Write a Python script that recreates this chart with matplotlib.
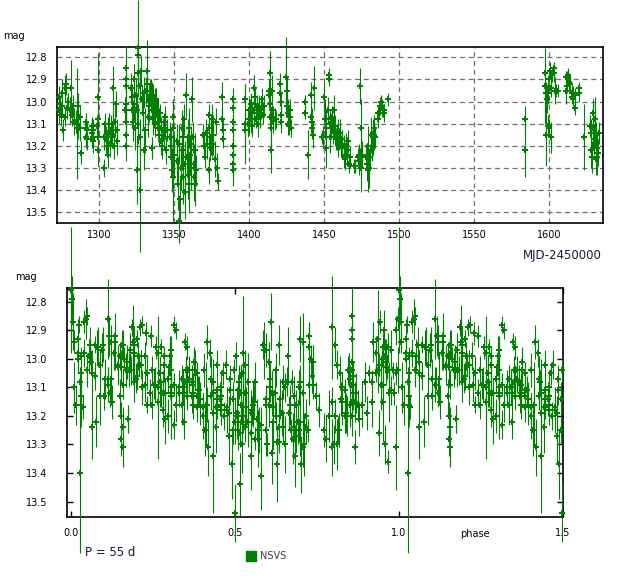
"""NSVS light curve of a semi-regular variable: time series and phase plot (P = 55 d)."""
import numpy as np
import matplotlib
matplotlib.use('Agg')
import matplotlib.pyplot as plt
from matplotlib.lines import Line2D

GREEN = '#008000'
PERIOD = 55.0      # days
T0 = 1325.45       # MJD-2450000 of phase 0

mjd = [
    1272.7, 1273.1, 1273.8, 1274.4, 1274.9, 1275.3, 1276.0, 1276.7, 1277.1, 1277.8, 1278.4, 1279.3, 1280.2, 1280.9, 1281.6, 1282.2, 1282.9,
    1284.4, 1285.1, 1285.6, 1286.0, 1286.7, 1287.3, 1287.8,
    1290.9, 1290.9, 1290.9, 1291.6, 1291.6,
    1294.9, 1294.9, 1294.9, 1295.6, 1295.6, 1295.6,
    1298.4, 1298.7, 1298.9, 1299.1, 1299.3,
    1303.1, 1303.3, 1303.8, 1304.4, 1304.9, 1305.6, 1306.0, 1306.4, 1307.1, 1307.8, 1308.2, 1308.7, 1309.3, 1309.8, 1310.4, 1311.1, 1311.6, 1312.0,
    1317.1, 1317.6, 1317.6, 1317.6, 1317.6, 1317.6, 1317.6, 1317.6, 1317.6,
    1321.1, 1321.6, 1322.0, 1322.4, 1322.9, 1323.3, 1323.8, 1324.2, 1324.9, 1325.3, 1325.5, 1325.6, 1325.8, 1326.0, 1326.7, 1327.0, 1327.1, 1328.0,
    1328.4, 1328.9, 1329.6, 1330.0, 1330.4, 1330.9, 1331.6, 1331.8, 1332.2, 1332.7, 1333.3, 1334.0, 1334.7, 1335.1, 1335.3, 1336.0, 1336.7,
    1334.2, 1334.9, 1335.1, 1335.6, 1336.0, 1336.4, 1336.9, 1337.3, 1337.8, 1338.2, 1338.7, 1339.1, 1339.6, 1340.0, 1340.4, 1340.9, 1341.3,
    1341.8, 1342.2, 1342.7, 1343.1, 1343.6, 1344.0, 1344.4, 1344.9,
    1347.1, 1347.6, 1348.0, 1348.4, 1348.9, 1349.3, 1349.3, 1349.8,
    1351.6, 1352.0, 1352.4, 1352.9, 1353.3, 1353.8, 1354.2, 1354.7, 1355.1, 1355.6, 1356.0, 1356.4, 1356.9, 1357.3, 1357.8,
    1358.2, 1358.7, 1359.1, 1359.6, 1360.0, 1360.4, 1360.9, 1361.3, 1361.8, 1362.2, 1362.7, 1363.1, 1363.6, 1364.0, 1364.4,
    1369.3, 1369.8, 1370.2, 1370.7, 1371.6, 1372.7, 1373.1, 1373.3, 1373.8, 1374.2, 1374.7, 1375.1, 1376.0, 1377.1, 1377.8, 1378.2, 1378.7,
    1381.6, 1382.0, 1382.2, 1382.4,
    1388.7, 1388.9, 1389.1, 1388.7, 1388.9, 1389.1, 1388.9, 1389.1,
    1397.1, 1397.3, 1397.3, 1399.8, 1399.8,
    1399.3, 1400.2, 1400.7, 1401.1, 1401.6, 1402.0, 1402.7, 1403.3, 1403.8, 1404.2, 1404.9, 1405.6, 1406.0, 1406.4, 1407.1, 1407.8, 1408.2, 1408.9, 1409.6,
    1412.7, 1413.1, 1413.6, 1413.8, 1414.0, 1414.2, 1414.4, 1414.9, 1415.3, 1416.0, 1416.7, 1417.6,
    1420.4, 1420.4, 1420.7, 1420.9, 1421.1,
    1424.2, 1424.7, 1425.1, 1425.6, 1426.0, 1426.4, 1426.9, 1427.3, 1427.8,
    1436.7, 1437.1, 1438.9, 1440.7, 1441.1, 1441.6, 1442.0, 1442.4, 1442.9,
    1448.2, 1449.1, 1450.0, 1450.4, 1450.9, 1451.3, 1452.2, 1452.7, 1453.1, 1453.6, 1454.0, 1454.4, 1454.9, 1455.3, 1455.8,
    1456.2, 1456.7, 1457.1, 1457.6, 1458.2, 1458.9, 1459.3, 1459.8, 1460.4, 1461.1, 1461.6, 1462.0, 1462.7, 1463.3,
    1463.8, 1464.3, 1464.7, 1465.1, 1465.8, 1466.4, 1466.9,
    1470.0, 1470.4,
    1472.4, 1472.8, 1473.2, 1473.7, 1473.9, 1474.3, 1474.6, 1474.8, 1475.2,
    1477.9, 1478.3, 1478.7, 1479.2, 1479.6, 1480.0, 1480.5, 1480.9, 1481.4, 1481.8, 1482.2, 1482.7, 1483.1, 1483.6,
    1485.5, 1486.0, 1486.6, 1487.1, 1487.7, 1488.4, 1488.8, 1489.5, 1489.9,
    1492.1,
    1583.8, 1583.8,
    1596.9, 1597.3, 1597.8, 1597.8, 1598.2, 1598.7, 1599.1, 1599.6, 1600.0, 1600.4, 1600.9, 1601.3, 1601.8, 1602.7, 1603.1, 1603.6, 1604.4, 1605.8,
    1610.7, 1611.1, 1611.6, 1612.0, 1612.4, 1613.1, 1613.8, 1614.7, 1615.1, 1615.6, 1616.0, 1616.9, 1617.3, 1619.6, 1620.0,
    1623.1, 1627.1, 1627.6, 1628.0, 1628.4, 1628.9, 1629.3, 1629.8, 1630.2, 1630.7, 1630.7, 1631.1, 1631.6, 1632.0, 1632.4, 1633.1,
]
mag = [
    12.98, 13.04, 13.01, 13.06, 12.96, 13.02, 13.13, 13.07, 12.94, 12.92, 13.03, 13.00, 13.04, 12.94, 13.06, 13.02, 13.09,
    13.09, 13.10, 13.12, 13.02, 13.07, 13.12, 13.23,
    13.09, 13.12, 13.16, 13.13, 13.17,
    13.11, 13.14, 13.17, 13.13, 13.16, 13.18,
    13.11, 13.08, 13.16, 13.22, 12.98,
    13.16, 13.30, 13.10, 13.17, 13.20, 13.14, 13.24, 13.10, 13.19, 13.13, 13.16, 13.10, 12.94, 13.20, 13.09, 13.01, 13.13, 13.18,
    13.04, 12.85, 12.90, 12.93, 13.01, 13.04, 13.09, 13.15, 13.20,
    12.94, 12.98, 13.04, 13.09, 12.90, 13.01, 13.12, 12.97, 13.31, 13.04, 12.76, 12.79, 12.87, 13.10, 12.93, 13.40, 13.16, 12.86,
    12.99, 13.05, 13.22, 12.96, 13.13, 12.95, 12.86, 12.92, 13.07, 12.98, 13.02, 12.95, 13.04, 13.21, 12.97, 13.08, 12.99,
    12.95, 13.01, 13.21, 13.04, 12.98, 13.07, 13.02, 13.10, 12.99, 13.05, 13.12, 13.04, 13.09, 13.15, 13.05, 13.18, 13.12,
    13.20, 13.13, 13.09, 13.16, 13.12, 13.07, 13.22, 13.13,
    13.16, 13.20, 13.25, 13.31, 13.07, 13.12, 13.34, 13.24,
    13.18, 13.27, 13.37, 13.54, 13.19, 13.44, 13.30, 13.12, 13.22, 13.34, 13.16, 13.08, 13.28, 13.41, 12.97,
    13.25, 13.16, 13.33, 13.12, 13.37, 13.24, 13.19, 13.30, 12.99, 13.16, 13.28, 13.34, 13.22, 13.37, 13.31,
    13.15, 13.20, 13.25, 13.14, 13.19, 13.06, 13.31, 13.12, 13.21, 13.16, 13.08, 13.19, 13.15, 13.26, 13.09, 13.30, 13.36,
    12.98, 13.08, 13.13, 13.17,
    12.99, 13.03, 13.09, 13.13, 13.20, 13.24, 13.28, 13.31,
    12.99, 13.10, 13.13, 13.04, 13.08,
    13.10, 13.04, 13.08, 13.01, 13.05, 13.11, 13.04, 12.94, 12.98, 13.08, 13.02, 13.10, 13.05, 13.02, 13.07, 13.04, 12.99, 13.06, 13.02,
    12.95, 12.97, 13.01, 13.07, 12.87, 13.12, 13.22, 13.04, 12.95, 13.08, 13.08, 13.08,
    12.92, 12.96, 13.00, 13.06, 13.09,
    12.89, 12.95, 13.02, 13.05, 13.10, 13.11, 13.04, 13.07, 13.12,
    13.00, 13.05, 13.24, 12.97, 13.07, 13.09, 13.12, 13.15, 12.94,
    13.16, 13.16, 12.98, 13.08, 13.12, 13.21, 13.04, 12.88, 12.90, 13.10, 13.16, 13.12, 13.08, 13.07, 13.13,
    13.04, 13.11, 13.14, 13.17, 13.16, 13.13, 13.19, 13.17, 13.14, 13.20, 13.17, 13.19, 13.25, 13.20,
    13.26, 13.20, 13.24, 13.22, 13.18, 13.28, 13.25,
    13.29, 13.29,
    13.25, 13.24, 13.27, 13.25, 12.93, 13.12, 13.30, 13.24, 13.25,
    13.25, 13.28, 13.20, 13.31, 13.30, 13.30, 13.25, 13.15, 13.20, 13.20, 13.16, 13.12, 13.15, 13.16,
    13.05, 13.08, 13.05, 13.02, 13.00, 13.03, 13.04, 13.04, 13.05,
    12.99,
    13.08, 13.22,
    12.93, 12.87, 12.96, 13.15, 12.99, 12.96, 13.11, 13.12, 12.90, 12.86, 12.94, 13.16, 12.88, 12.87, 12.85, 12.95, 12.95, 12.95,
    12.89, 12.95, 12.93, 12.89, 12.88, 12.91, 12.92, 12.96, 12.98, 12.96, 12.99, 13.03, 12.97, 12.94, 12.96,
    13.16, 13.11, 13.14, 13.22, 13.25, 13.12, 13.05, 13.17, 13.08, 13.19, 13.26, 13.15, 13.21, 13.25, 13.23, 13.14,
]
err = [
    0.05, 0.06, 0.04, 0.05, 0.06, 0.05, 0.05, 0.04, 0.06, 0.05, 0.05, 0.04, 0.06, 0.13, 0.05, 0.05, 0.06,
    0.05, 0.25, 0.05, 0.06, 0.05, 0.06, 0.05,
    0.04, 0.04, 0.05, 0.04, 0.05,
    0.04, 0.05, 0.04, 0.05, 0.04, 0.05,
    0.05, 0.06, 0.05, 0.07, 0.20,
    0.06, 0.04, 0.05, 0.06, 0.05, 0.07, 0.06, 0.05, 0.06, 0.07, 0.05, 0.06, 0.10, 0.06, 0.07, 0.06, 0.05, 0.06,
    0.06, 0.10, 0.06, 0.05, 0.06, 0.07, 0.06, 0.08, 0.07,
    0.07, 0.06, 0.08, 0.09, 0.07, 0.08, 0.10, 0.07, 0.15, 0.08, 0.22, 0.08, 0.10, 0.09, 0.07, 0.28, 0.08, 0.07,
    0.06, 0.08, 0.09, 0.07, 0.10, 0.06, 0.14, 0.07, 0.09, 0.06, 0.07, 0.05, 0.06, 0.05, 0.06, 0.07, 0.05,
    0.05, 0.06, 0.05, 0.05, 0.06, 0.05, 0.04, 0.06, 0.05, 0.06, 0.05, 0.05, 0.06, 0.05, 0.04, 0.06, 0.05,
    0.06, 0.05, 0.04, 0.06, 0.05, 0.05, 0.06, 0.05,
    0.07, 0.08, 0.09, 0.10, 0.08, 0.12, 0.20, 0.09,
    0.08, 0.10, 0.12, 0.10, 0.09, 0.11, 0.10, 0.08, 0.09, 0.12, 0.08, 0.07, 0.10, 0.12, 0.10,
    0.09, 0.08, 0.11, 0.09, 0.13, 0.09, 0.08, 0.10, 0.10, 0.07, 0.09, 0.11, 0.08, 0.10, 0.07,
    0.05, 0.06, 0.05, 0.06, 0.07, 0.05, 0.06, 0.07, 0.06, 0.08, 0.07, 0.06, 0.09, 0.08, 0.06, 0.07, 0.04,
    0.07, 0.05, 0.05, 0.04,
    0.05, 0.06, 0.05, 0.06, 0.05, 0.07, 0.06, 0.07,
    0.07, 0.18, 0.08, 0.05, 0.06,
    0.06, 0.05, 0.06, 0.05, 0.04, 0.05, 0.06, 0.06, 0.05, 0.04, 0.05, 0.06, 0.04, 0.05, 0.05, 0.04, 0.05, 0.04, 0.05,
    0.05, 0.06, 0.07, 0.06, 0.10, 0.08, 0.10, 0.06, 0.07, 0.06, 0.05, 0.04,
    0.05, 0.06, 0.05, 0.06, 0.05,
    0.18, 0.06, 0.05, 0.06, 0.05, 0.04, 0.05, 0.05, 0.04,
    0.03, 0.03, 0.11, 0.06, 0.07, 0.06, 0.05, 0.06, 0.10,
    0.03, 0.05, 0.07, 0.09, 0.08, 0.09, 0.06, 0.03, 0.03, 0.06, 0.07, 0.05, 0.06, 0.05, 0.06,
    0.07, 0.05, 0.06, 0.05, 0.06, 0.05, 0.06, 0.05, 0.06, 0.05, 0.04, 0.06, 0.05, 0.05,
    0.05, 0.06, 0.05, 0.06, 0.05, 0.04, 0.05,
    0.03, 0.03,
    0.04, 0.05, 0.06, 0.04, 0.08, 0.13, 0.11, 0.06, 0.04,
    0.06, 0.08, 0.09, 0.10, 0.07, 0.09, 0.06, 0.08, 0.06, 0.07, 0.08, 0.06, 0.07, 0.05,
    0.03, 0.04, 0.03, 0.04, 0.03, 0.04, 0.03, 0.03, 0.04,
    0.03,
    0.06, 0.12,
    0.17, 0.04, 0.05, 0.14, 0.06, 0.05, 0.05, 0.04, 0.05, 0.04, 0.04, 0.07, 0.03, 0.04, 0.03, 0.06, 0.03, 0.03,
    0.03, 0.06, 0.03, 0.03, 0.03, 0.04, 0.04, 0.04, 0.03, 0.03, 0.03, 0.03, 0.03, 0.03, 0.04,
    0.15, 0.05, 0.06, 0.08, 0.07, 0.10, 0.06, 0.07, 0.10, 0.08, 0.07, 0.06, 0.07, 0.08, 0.06, 0.05,
]

time_ticks = [1300, 1350, 1400, 1450, 1500, 1550, 1600]
phase_ticks = [0.0, 0.5, 1.0, 1.5]
mag_ticks = [12.8, 12.9, 13.0, 13.1, 13.2, 13.3, 13.4, 13.5]

W, H = 621, 582


def fx(px):
    return px / W


def fy(py):
    return 1 - py / H


def draw_points(ax, x, y, yerr, label=None):
    eb = ax.errorbar(x, y, yerr=yerr, fmt='P', color=GREEN, ms=4.5, mew=0,
                     elinewidth=0.8, capsize=0, zorder=3, label=label)
    # the original plot lets long error bars run past the frame
    eb.lines[0].set_clip_on(False)
    for coll in eb.lines[2]:
        coll.set_clip_on(False)
    return eb


def main():
    t = np.array(mjd)
    m = np.array(mag)
    e = np.array(err)

    phase = ((t - T0) / PERIOD) % 1.0
    wrap = phase < 0.5
    ph = np.concatenate([phase, phase[wrap] + 1.0])
    pm = np.concatenate([m, m[wrap]])
    pe = np.concatenate([e, e[wrap]])

    plt.rcParams['font.family'] = ['DejaVu Sans']
    fig = plt.figure(figsize=(W / 100, H / 100), dpi=100)

    # --- time series ---
    ax1 = fig.add_axes([fx(57), fy(223), fx(603) - fx(57), fy(46.7) - fy(223)])
    draw_points(ax1, t, m, e)
    ax1.set_xlim(1271.7, 1635.7)
    ax1.set_ylim(13.548, 12.752)
    ax1.set_xticks(time_ticks)
    ax1.set_yticks(mag_ticks)
    ax1.set_yticklabels([f'{v:.1f}' for v in mag_ticks])
    ax1.tick_params(length=0, labelsize=7, colors='black')
    ax1.tick_params(axis='x', pad=5)
    ax1.tick_params(axis='y', pad=7)
    ax1.grid(True, color='#707070', lw=0.9, ls=(0, (4, 3)))
    ax1.set_axisbelow(True)
    for s in ax1.spines.values():
        s.set_linewidth(1.2)

    # --- phase plot ---
    ax2 = fig.add_axes([fx(66.7), fy(517.3), fx(562.7) - fx(66.7), fy(288.3) - fy(517.3)])
    draw_points(ax2, ph, pm, pe, label='NSVS')
    ax2.set_xlim(-0.013, 1.5)
    ax2.set_ylim(13.555, 12.753)
    ax2.set_xticks(phase_ticks)
    ax2.set_xticklabels([f'{v:.1f}' for v in phase_ticks])
    ax2.set_yticks(mag_ticks)
    ax2.set_yticklabels([f'{v:.1f}' for v in mag_ticks])
    ax2.tick_params(direction='in', length=4, width=1, labelsize=7,
                    top=True, right=True)
    ax2.tick_params(axis='x', pad=8)
    ax2.tick_params(axis='y', pad=14)
    for s in ax2.spines.values():
        s.set_linewidth(1.2)

    fig.text(fx(3), fy(36), 'mag', fontsize=7, va='center', ha='left')
    fig.text(fx(15), fy(277), 'mag', fontsize=7, va='center', ha='left')
    fig.text(fx(602), fy(256), 'MJD-2450000', fontsize=8.5, va='center', ha='right',
             color='#1a1a3a')
    fig.text(fx(475), fy(534), 'phase', fontsize=7, va='center', ha='center')
    fig.text(fx(85), fy(553), f'P = {PERIOD:.0f} d', fontsize=8.5, va='center', ha='left',
             color='#1a1a3a')

    handle = Line2D([], [], marker='s', ls='none', color=GREEN, ms=7.5)
    fig.legend([handle], ['NSVS'], loc='center left', bbox_to_anchor=(fx(246), fy(556)),
               frameon=False, fontsize=7, handletextpad=0.4, handlelength=1.0,
               labelcolor='#404040', borderpad=0, borderaxespad=0)

    fig.savefig('out.png', dpi=100)
    plt.close(fig)


if __name__ == '__main__':
    main()
